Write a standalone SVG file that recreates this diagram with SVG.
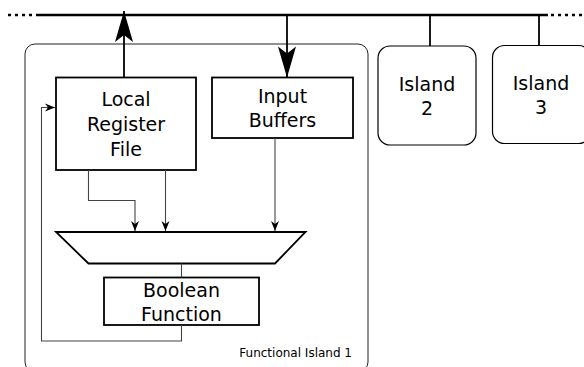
<svg xmlns="http://www.w3.org/2000/svg" width="584" height="367" viewBox="0 0 584 367">
  <style>
    .box { fill: #ffffff; stroke: #000000; stroke-width: 1.8; }
    .island { fill: #ffffff; stroke: #000000; stroke-width: 1.2; }
    .frame { fill: none; stroke: #222222; stroke-width: 1; }
    .bus { fill: none; stroke: #000000; stroke-width: 2.6; }
    .busdash { fill: none; stroke: #000000; stroke-width: 2.6; stroke-dasharray: 3 4; }
    .link { fill: none; stroke: #000000; stroke-width: 1.8; }
    .wire { fill: none; stroke: #444444; stroke-width: 1.1; }
    .label { font-family: "DejaVu Sans", sans-serif; font-size: 19px; fill: #000000; text-anchor: middle; }
    .small { font-family: "DejaVu Sans", sans-serif; font-size: 12px; fill: #000000; text-anchor: end; }
  </style>
  <defs>
    <marker id="bigArrow" markerUnits="userSpaceOnUse" markerWidth="34" markerHeight="24" viewBox="-32 -12 34 24" refX="0" refY="0" orient="auto">
      <path d="M0,0 L-31,-9 L-24,0 L-31,9 Z" fill="#000000"/>
    </marker>
    <marker id="smallArrow" markerUnits="userSpaceOnUse" markerWidth="12" markerHeight="10" viewBox="-11 -5 12 10" refX="0" refY="0" orient="auto">
      <path d="M0,0 L-10,-4 L-7,0 L-10,4 Z" fill="#000000"/>
    </marker>
  </defs>

  <!-- shared bus -->
  <g id="bus">
    <line class="busdash" x1="8" y1="15" x2="40" y2="15"/>
    <line class="bus" x1="39" y1="15" x2="548" y2="15"/>
    <line class="busdash" x1="551" y1="15" x2="584" y2="15"/>
  </g>

  <!-- functional island 1 frame -->
  <g id="functional-island-1">
    <rect class="frame" x="25" y="44" width="343" height="328" rx="10" ry="10"/>
    <text class="small" x="352" y="357">Functional Island 1</text>
  </g>

  <g id="local-register-file">
    <rect class="box" x="56" y="77.5" width="140" height="92.5"/>
    <text class="label" x="126" y="106">Local</text>
    <text class="label" x="126" y="131">Register</text>
    <text class="label" x="126" y="156">File</text>
  </g>

  <g id="input-buffers">
    <rect class="box" x="212" y="77.5" width="141" height="60.5"/>
    <text class="label" x="282.5" y="103">Input</text>
    <text class="label" x="282.5" y="127">Buffers</text>
  </g>

  <g id="mux">
    <polygon class="box" points="56,232 305.5,232 275,263.5 88.5,263.5"/>
  </g>

  <g id="boolean-function">
    <rect class="box" x="104" y="277.5" width="155" height="47.5"/>
    <text class="label" x="181.5" y="297">Boolean</text>
    <text class="label" x="181.5" y="321">Function</text>
  </g>

  <g id="island-2">
    <rect class="island" x="378" y="46" width="98" height="99" rx="12" ry="12"/>
    <text class="label" x="427" y="91">Island</text>
    <text class="label" x="427" y="115">2</text>
  </g>

  <g id="island-3">
    <rect class="island" x="492.5" y="45.5" width="98" height="98" rx="12" ry="12"/>
    <text class="label" x="541" y="90">Island</text>
    <text class="label" x="541" y="114">3</text>
  </g>

  <!-- connectors -->
  <g id="connectors">
    <line class="link" x1="124" y1="77.5" x2="124" y2="11" marker-end="url(#bigArrow)"/>
    <line class="link" x1="287" y1="15" x2="287" y2="77.5" marker-end="url(#bigArrow)"/>
    <line class="link" x1="430" y1="15" x2="430" y2="46"/>
    <line class="link" x1="539" y1="15" x2="539" y2="45.5"/>

    <polyline class="wire" points="88.5,170 88.5,200.5 135,200.5 135,231" marker-end="url(#smallArrow)"/>
    <line class="wire" x1="165.5" y1="170" x2="165.5" y2="231" marker-end="url(#smallArrow)"/>
    <line class="wire" x1="275" y1="138" x2="275" y2="231" marker-end="url(#smallArrow)"/>

    <line class="wire" x1="181.5" y1="263.5" x2="181.5" y2="277.5"/>
    <polyline class="wire" points="181.5,325 181.5,341 41.5,341 41.5,107.5 55,107.5" marker-end="url(#smallArrow)"/>
  </g>
</svg>
